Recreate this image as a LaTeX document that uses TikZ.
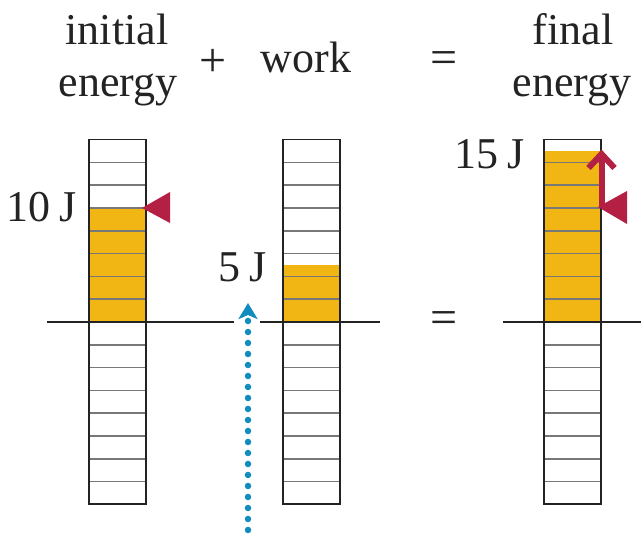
\documentclass[tikz,border=0pt]{standalone}
\usepackage{fontspec}
\setmainfont{Liberation Serif}
\usepackage{xcolor}
\definecolor{mlyellow}{RGB}{242,182,20}
\definecolor{mlred}{RGB}{180,32,68}
\definecolor{mlblue}{RGB}{18,140,190}
\definecolor{mlgrid}{RGB}{120,120,120}
\definecolor{mldark}{RGB}{35,35,35}
\usetikzlibrary{arrows.meta,positioning,calc}

\begin{document}
\begin{tikzpicture}[x=1pt,y=1pt,
  eqtext/.style={font=\fontsize{44}{50}\selectfont,inner sep=0pt,text=mldark,anchor=base},
  eqsign/.style={font=\fontsize{48}{54}\selectfont,inner sep=0pt,text=mldark},
  joule/.style={eqtext,anchor=base east},
  zeroline/.style={draw=mldark,line width=2.2pt},
  marker/.style={fill=mlred}
]
  \useasboundingbox (0,0) rectangle (644,534);

  % energy bars: left edge / filled cells (2 J per cell)
  \foreach \bx/\lev in {89/5,283/2.5,544/7.5}{
    \fill[mlyellow] (\bx,212) rectangle ++(57,\lev*22.8);
    \foreach \k in {-7,...,7}
      \draw[mlgrid,line width=1.6pt] (\bx,212+\k*22.8) -- ++(57,0);
    \draw[mldark,line width=1.8pt] (\bx,29.6) rectangle (\bx+57,394.4);
  }

  % zero lines
  \draw[zeroline] (47,212) -- (234,212);
  \draw[zeroline] (260,212) -- (380,212);
  \draw[zeroline] (503,212) -- (641,212);

  % headings
  \node[eqtext] (initial) at (117,489) {initial};
  \node[eqtext] (initialE) at (118,437) {energy};
  \node[eqsign] (plus) at (213,471) {+};
  \node[eqtext] (work) at (306,461) {work};
  \node[eqsign] (equals) at (444,471) {=};
  \node[eqtext] (final) at (573,489) {final};
  \node[eqtext] (finalE) at (572,437) {energy};
  \node[eqsign] (equalsbar) at (444,211) {=};

  % values
  \node[joule] (tenJ) at (77,312) {10\hspace{0.2em}J};
  \node[joule] (fiveJ) at (267,252) {5\hspace{0.2em}J};
  \node[joule] (fifteenJ) at (525,365) {15\hspace{0.2em}J};

  % level markers
  \fill[marker] (598,327) -- (627,343) -- (627,310) -- cycle;
  \fill[marker] (142,326) -- (170,342) -- (170,311) -- cycle;

  \coordinate (rise start) at (601.5,326);
  \coordinate (rise end) at (601.5,380);
  \draw[mlred,line width=6pt] (rise start) -- (rise end);
  \draw[mlred,line width=6pt,line join=miter]
    ($(rise end)+(-13,-14)$) -- (rise end) -- ($(rise end)+(13,-14)$);

  % work input
  \coordinate (work in) at (248,4);
  \coordinate (work top) at (248,231);
  \draw[mlblue,line width=6.5pt,line cap=round,dash pattern=on 0pt off 11pt,
    -{Stealth[length=16pt,width=19pt,inset=4pt]}] (work in) -- (work top);
\end{tikzpicture}
\end{document}
